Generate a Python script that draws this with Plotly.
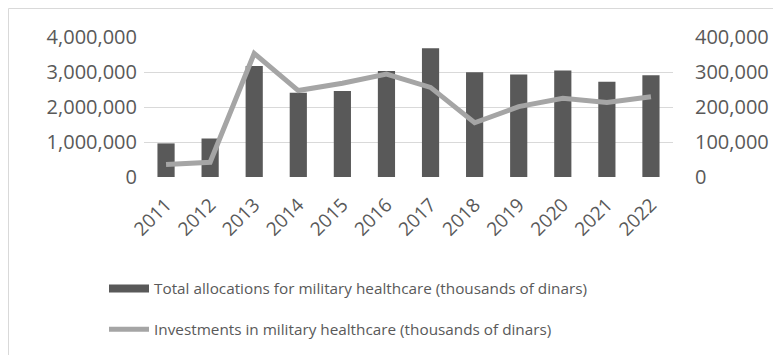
import plotly.graph_objects as go

years = ["2011", "2012", "2013", "2014", "2015", "2016", "2017", "2018", "2019", "2020", "2021", "2022"]
total_alloc = [960000, 1100000, 3170000, 2410000, 2460000, 3030000, 3680000, 2990000, 2930000, 3040000, 2720000, 2910000]
investments = [36000, 42000, 353000, 247000, 268000, 294000, 256000, 155000, 201000, 225000, 213000, 229000]

name_bar = "Total allocations for military healthcare (thousands of dinars)"
name_line = "Investments in military healthcare (thousands of dinars)"

FONT = "Open Sans"
GRAY = "#595959"

# page offset (body margin) of 8px compensated
OFF = 8
W, H = 781 - OFF, 355 - OFF
L = 144 - OFF
T = 37 - OFF
R = W - (673 - OFF)
B = H - (177 - OFF)
pw, ph = W - L - R, H - T - B

def px_x(p):
    return (p - OFF - L) / pw

def px_y(p):
    return (H - B - (p - OFF)) / ph

fig = go.Figure()
fig.add_trace(go.Bar(x=years, y=total_alloc, name=name_bar, marker_color="#595959",
                     marker_line_width=0, showlegend=False))
# legend proxy for the bars (wide rectangle swatch as in the reference)
fig.add_trace(go.Scatter(x=[None], y=[None], name=name_bar, mode="lines",
                         line=dict(color="#595959", width=8), legendgroup="a"))
fig.add_trace(go.Scatter(x=years, y=investments, name=name_line, yaxis="y2", mode="lines",
                         line=dict(color="#a5a5a5", width=5), legendgroup="b"))

fig.update_layout(
    width=W, height=H,
    margin=dict(l=L, r=R, t=T, b=B, autoexpand=False),
    paper_bgcolor="white", plot_bgcolor="white",
    font=dict(family=FONT, color=GRAY),
    bargap=0.61,
    showlegend=True,
    legend=dict(x=px_x(104), y=px_y(272), xanchor="left", yanchor="top",
                font=dict(size=15.3, color=GRAY, family=FONT), traceorder="grouped",
                tracegroupgap=18, bgcolor="rgba(0,0,0,0)", itemwidth=40),
    xaxis=dict(tickangle=-45, tickfont=dict(size=19, color=GRAY), showgrid=False,
               showline=False, ticks="", ticklabelstandoff=12),
    yaxis=dict(range=[0, 4000000], dtick=1000000, tickformat=",d", showgrid=True,
               gridcolor="#d9d9d9", gridwidth=1, zeroline=False,
               tickfont=dict(size=20, color=GRAY), ticks="", ticklabelstandoff=6),
    yaxis2=dict(range=[0, 400000], dtick=100000, tickformat=",d", overlaying="y", side="right",
                showgrid=False, zeroline=False, tickfont=dict(size=20, color=GRAY), ticks="",
                ticklabelstandoff=21),
    shapes=[dict(type="rect", xref="paper", yref="paper",
                 x0=px_x(8.5), x1=px_x(790), y0=px_y(370), y1=px_y(8.5),
                 line=dict(color="#d9d9d9", width=1), fillcolor="rgba(0,0,0,0)", layer="below")],
)

fig.write_html("out.html")
